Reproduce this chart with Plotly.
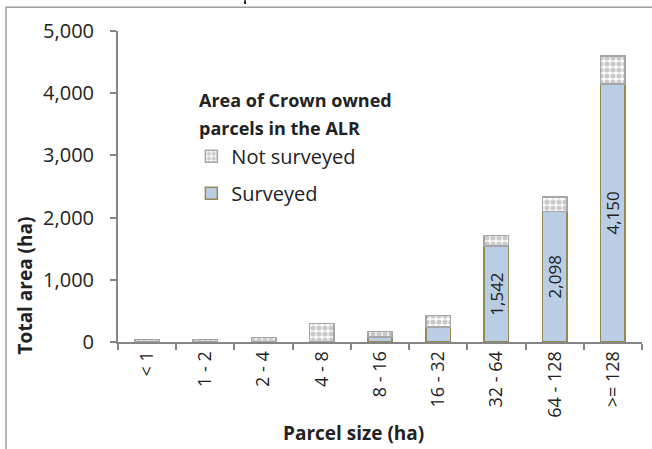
import plotly.graph_objects as go

categories = ["< 1", "1 - 2", "2 - 4", "4 - 8", "8 - 16", "16 - 32", "32 - 64", "64 - 128", ">= 128"]
surveyed = [0, 0, 3, 5, 80, 240, 1542, 2098, 4150]
not_surveyed = [43, 43, 67, 291, 85, 190, 173, 230, 445]
show_label = [False, False, False, False, False, False, True, True, True]
y_ticks = [0, 1000, 2000, 3000, 4000, 5000]

FONT = "Open Sans"
AXIS_GREY = "#868686"

labels = [f"{v:,}" if s else "" for v, s in zip(surveyed, show_label)]

fig = go.Figure()
fig.add_trace(go.Bar(
    x=categories, y=surveyed, name="Surveyed", legendgroup="s", legendrank=2,
    marker=dict(color="#B9CDE5", line=dict(color="#948A54", width=1.5)),
    text=labels, textposition="inside", insidetextanchor="middle",
    textangle=-90, constraintext="none",
    textfont=dict(family=FONT, size=17, color="#222222"),
    hoverinfo="skip",
))
fig.add_trace(go.Bar(
    x=categories, y=not_surveyed, name="Not surveyed", legendgroup="n", legendrank=1,
    marker=dict(color="#A6A6A6", line=dict(color="#A6A6A6", width=1.5),
                pattern=dict(shape=".", fgcolor="#959595", bgcolor="white",
                             size=6, solidity=0.6)),
    hoverinfo="skip",
))

fig.update_layout(
    width=652, height=449,
    margin=dict(l=118, r=10, t=31, b=107, pad=0),
    paper_bgcolor="white", plot_bgcolor="white",
    barmode="stack", bargap=0.58,
    font=dict(family=FONT, color="#222222"),
    showlegend=True,
    legend=dict(
        x=0.14, xanchor="left", y=0.66, yanchor="top",
        traceorder="grouped", tracegroupgap=8,
        font=dict(family=FONT, size=20, color="#222222"),
        bgcolor="rgba(0,0,0,0)", borderwidth=0,
    ),
    xaxis=dict(
        type="category", showline=True, linecolor=AXIS_GREY, linewidth=2,
        ticks="outside", tickson="boundaries", ticklen=6, tickcolor=AXIS_GREY, tickwidth=1.5,
        tickangle=-90, tickfont=dict(family=FONT, size=18, color="#222222"),
        showgrid=False, zeroline=False, automargin=False,
    ),
    yaxis=dict(
        range=[0, 5000], tickvals=y_ticks, tickformat=",",
        showline=True, linecolor=AXIS_GREY, linewidth=2,
        ticks="outside", ticklen=6, tickcolor=AXIS_GREY, tickwidth=1.5,
        tickfont=dict(family=FONT, size=20, color="#222222"),
        ticklabelstandoff=12,
        showgrid=False, zeroline=False, automargin=False,
    ),
    annotations=[
        dict(text="<b>Area of Crown owned</b>", xref="paper", yref="paper",
             x=0.15, y=0.777, xanchor="left", yanchor="middle", showarrow=False,
             font=dict(family=FONT, size=18, color="#222222")),
        dict(text="<b>parcels in the ALR</b>", xref="paper", yref="paper",
             x=0.15, y=0.687, xanchor="left", yanchor="middle", showarrow=False,
             font=dict(family=FONT, size=18, color="#222222")),
        dict(text="<b>Parcel size (ha)</b>", xref="paper", yref="paper",
             x=0.45, y=-0.294, xanchor="center", yanchor="middle", showarrow=False,
             font=dict(family=FONT, size=19, color="#222222")),
        dict(text="<b>Total area (ha)</b>", xref="paper", yref="paper",
             x=-0.1775, y=0.182, xanchor="center", yanchor="middle", showarrow=False,
             textangle=-90, font=dict(family=FONT, size=19, color="#222222")),
    ],
    shapes=[
        dict(type="rect", xref="paper", yref="paper", x0=-0.2137, y0=-0.5, x1=1.2, y1=1.076,
             line=dict(color="#A0A0A0", width=1.5), fillcolor="rgba(0,0,0,0)", layer="below"),
        dict(type="line", xref="paper", yref="paper", x0=0.2424, x1=0.2424, y0=1.0987, y1=1.087,
             line=dict(color="#222222", width=2)),
    ],
)

fig.write_html(
    "out.html",
    config={"displayModeBar": False},
    post_script="document.body.style.margin='0';document.body.style.overflow='hidden';",
)
